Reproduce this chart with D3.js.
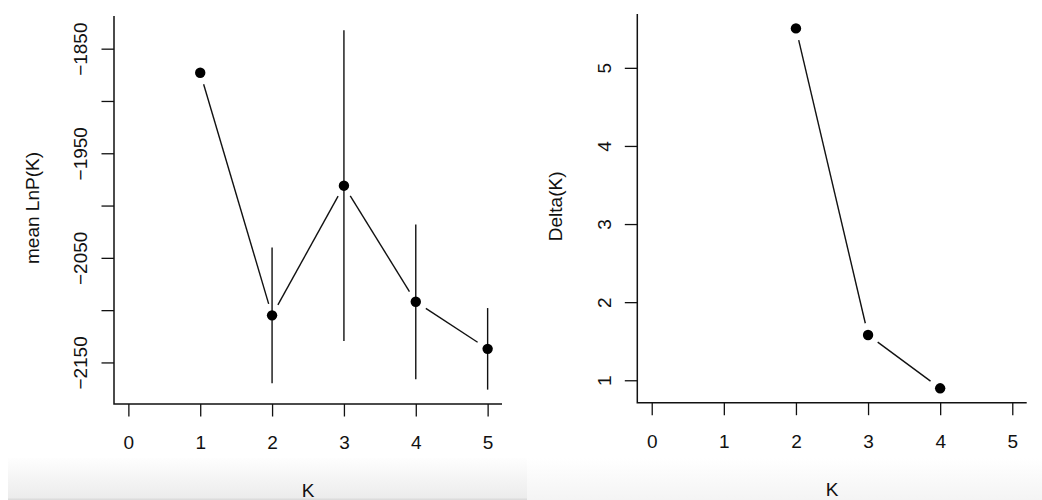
<!DOCTYPE html>
<html>
<head>
<meta charset="utf-8">
<script src="https://cdn.jsdelivr.net/npm/d3@7"></script>
<style>
html,body{margin:0;padding:0;background:#fff;}
svg{display:block;font-family:"Liberation Sans",Arial,Helvetica,sans-serif;}
</style>
</head>
<body>
<svg id="chart" width="1042" height="500"></svg>
<script>
// ---- data ----
const kLeft = [1, 2, 3, 4, 5];
const meanLnP = [-1873, -2105, -1981, -2092, -2137];
const sdLnP = [0, 65, 148.5, 74, 39];
const kRight = [2, 3, 4];
const deltaK = [5.505, 1.58, 0.897];
const xTicks = [0, 1, 2, 3, 4, 5];
const yTicksLeft = [-2150, -2100, -2050, -2000, -1950, -1900, -1850];
const yLabelsLeft = [-2150, -2050, -1950, -1850];
const yTicksRight = [1, 2, 3, 4, 5];

const svg = d3.select("#chart");
const ink = "#111";
const fs = 19;
const minusFmt = d3.format("");

// bottom background gradients (screenshot strip)
const defs = svg.append("defs");
const g1 = defs.append("linearGradient").attr("id","gl").attr("x1",0).attr("y1",0).attr("x2",0).attr("y2",1);
g1.append("stop").attr("offset","0%").attr("stop-color","#fefefe");
g1.append("stop").attr("offset","100%").attr("stop-color","#ebebeb");
const g2 = defs.append("linearGradient").attr("id","gr").attr("x1",0).attr("y1",0).attr("x2",0).attr("y2",1);
g2.append("stop").attr("offset","0%").attr("stop-color","#ffffff");
g2.append("stop").attr("offset","100%").attr("stop-color","#f4f4f4");
svg.append("rect").attr("x",8).attr("y",458).attr("width",519).attr("height",42).attr("fill","url(#gl)");
svg.append("rect").attr("x",8).attr("y",498.5).attr("width",519).attr("height",1.5).attr("fill","#dcdcdc");
svg.append("rect").attr("x",527).attr("y",458).attr("width",515).attr("height",42).attr("fill","url(#gr)");

function rRange(vals){
  const e = d3.extent(vals);
  const pad = (e[1]-e[0])*0.04;
  return [e[0]-pad, e[1]+pad];
}

function panel(opt){
  const x = d3.scaleLinear().domain(rRange([0,5])).range([opt.x0, opt.x1]);
  const y = d3.scaleLinear().domain(rRange(opt.yAll)).range([opt.y1, opt.y0]);
  const g = svg.append("g");

  // L-shaped box
  g.append("path")
    .attr("d", `M${opt.x0},${opt.y0}V${opt.y1}H${opt.x1}`)
    .attr("fill","none").attr("stroke",ink).attr("stroke-width",1.5);

  // x axis
  const xa = g.append("g").attr("transform",`translate(0,${opt.y1})`)
    .call(d3.axisBottom(x).tickValues(xTicks).tickSize(12.5).tickPadding(0).tickFormat(d3.format("d")));
  xa.select(".domain").remove();
  xa.selectAll(".tick line").attr("stroke",ink).attr("stroke-width",1.3);
  xa.selectAll(".tick text").attr("y", opt.xLabBase - opt.y1).attr("dy",0)
    .attr("font-size",fs).attr("fill",ink).attr("font-family","Liberation Sans, Arial, sans-serif");

  // y axis
  const ya = g.append("g").attr("transform",`translate(${opt.x0},0)`)
    .call(d3.axisLeft(y).tickValues(opt.yTicks).tickSize(12.5).tickPadding(0)
      .tickFormat(d => opt.yLabels.includes(d) ? d3.format("d")(d) : ""));
  ya.select(".domain").remove();
  ya.selectAll(".tick line").attr("stroke",ink).attr("stroke-width",1.3);
  ya.selectAll(".tick text")
    .attr("x",0).attr("dy",0).attr("y",0)
    .attr("text-anchor","middle")
    .attr("font-size",fs).attr("fill",ink).attr("font-family","Liberation Sans, Arial, sans-serif")
    .attr("transform",`translate(${opt.yLabBase - opt.x0},0) rotate(-90)`);

  // axis titles
  g.append("text").attr("x",(opt.x0+opt.x1)/2).attr("y",opt.kBase)
    .attr("text-anchor","middle").attr("font-size",fs).attr("fill",ink).text("K");
  g.append("text").attr("transform",`translate(${opt.titleBase},${(opt.y0+opt.y1)/2 - 2}) rotate(-90)`)
    .attr("text-anchor","middle").attr("font-size",fs).attr("fill",ink).text(opt.title);

  // error bars
  if (opt.sd){
    opt.ks.forEach((k,i)=>{
      if (opt.sd[i] > 0){
        g.append("line").attr("x1",x(k)).attr("x2",x(k))
          .attr("y1",y(opt.vals[i]-opt.sd[i])).attr("y2",y(opt.vals[i]+opt.sd[i]))
          .attr("stroke",ink).attr("stroke-width",1.4);
      }
    });
  }

  // type="b" segments with gaps
  const gap = 12;
  for (let i=0;i<opt.ks.length-1;i++){
    const ax = x(opt.ks[i]), ay = y(opt.vals[i]);
    const bx = x(opt.ks[i+1]), by = y(opt.vals[i+1]);
    const dx = bx-ax, dy = by-ay, L = Math.hypot(dx,dy);
    if (L > 2*gap){
      const ux = dx/L, uy = dy/L;
      g.append("line").attr("x1",ax+ux*gap).attr("y1",ay+uy*gap)
        .attr("x2",bx-ux*gap).attr("y2",by-uy*gap)
        .attr("stroke",ink).attr("stroke-width",1.4);
    }
  }

  // points
  g.selectAll("circle.pt").data(opt.ks).enter().append("circle")
    .attr("class","pt").attr("cx",d=>x(d)).attr("cy",(d,i)=>y(opt.vals[i]))
    .attr("r",5.2).attr("fill","#000");
}

panel({
  x0:114, x1:502, y0:16, y1:404,
  ks:kLeft, vals:meanLnP, sd:sdLnP,
  yAll: meanLnP.flatMap((m,i)=>[m-sdLnP[i], m+sdLnP[i]]),
  yTicks:yTicksLeft, yLabels:yLabelsLeft,
  yLabBase:87.3, titleBase:39, xLabBase:449, kBase:497,
  title:"mean LnP(K)"
});

panel({
  x0:637.3, x1:1026.7, y0:14, y1:402.7,
  ks:kRight, vals:deltaK, sd:null,
  yAll: deltaK,
  yTicks:yTicksRight, yLabels:yTicksRight,
  yLabBase:610.5, titleBase:562, xLabBase:448, kBase:495.5,
  title:"Delta(K)"
});
</script>
</body>
</html>
